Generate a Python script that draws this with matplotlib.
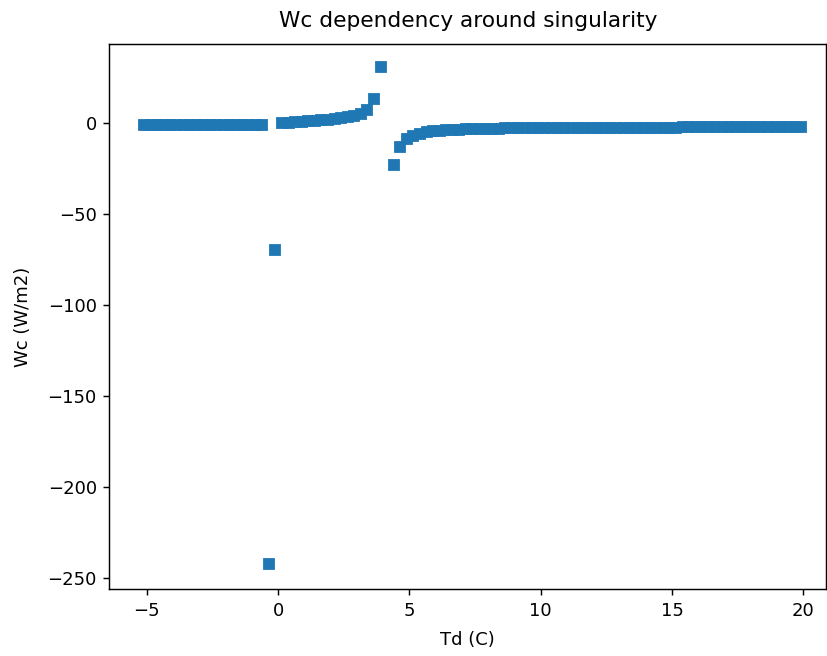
"""
Wc dependency around singularity - scatter of Wc vs Td
"""
import numpy as np
import matplotlib
matplotlib.use('Agg')
import matplotlib.pyplot as plt

# Td sample points (C), left branch, middle branch, right branch
td_left = [-5.1, -4.85, -4.6, -4.35, -4.1, -3.85, -3.6, -3.35, -3.1, -2.85,
           -2.6, -2.35, -2.1, -1.85, -1.6, -1.35, -1.1, -0.85, -0.6,
           -0.35, -0.1]
wc_left = [-0.9, -0.9, -0.9, -0.9, -0.9, -0.9, -0.9, -0.9, -0.9, -0.9,
           -0.9, -0.9, -0.9, -0.9, -0.9, -0.9, -0.9, -0.9, -0.9,
           -242.0, -69.5]

td_mid = [0.15, 0.4, 0.65, 0.9, 1.15, 1.4, 1.65, 1.9, 2.15, 2.4,
          2.65, 2.9, 3.15, 3.4, 3.65, 3.9]
wc_mid = [0.0, 0.2, 0.4, 0.6, 0.9, 1.1, 1.4, 1.8, 2.3, 2.8,
          3.4, 4.1, 5.0, 7.2, 13.3, 31.0]

td_right = [4.4, 4.65, 4.9, 5.15, 5.4, 5.65, 5.9, 6.15, 6.4, 6.65,
            6.9, 7.15, 7.4, 7.65, 7.9, 8.15, 8.4, 8.65, 8.9, 9.15,
            9.4, 9.65, 9.9, 10.15, 10.4, 10.65, 10.9, 11.15, 11.4, 11.65,
            11.9, 12.15, 12.4, 12.65, 12.9, 13.15, 13.4, 13.65, 13.9, 14.15,
            14.4, 14.65, 14.9, 15.15, 15.4, 15.65, 15.9, 16.15, 16.4, 16.65,
            16.9, 17.15, 17.4, 17.65, 17.9, 18.15, 18.4, 18.65, 18.9, 19.15,
            19.4, 19.65, 19.9]
wc_right = [-23.2, -13.2, -8.8, -6.9, -5.8, -5.1, -4.6, -4.3, -4.0, -3.8,
            -3.6, -3.5, -3.4, -3.3, -3.2, -3.1, -3.1, -3.0, -3.0, -2.9,
            -2.9, -2.9, -2.8, -2.8, -2.8, -2.7, -2.7, -2.7, -2.7, -2.6,
            -2.6, -2.6, -2.6, -2.6, -2.6, -2.5, -2.5, -2.5, -2.5, -2.5,
            -2.5, -2.5, -2.5, -2.5, -2.4, -2.4, -2.4, -2.4, -2.4, -2.4,
            -2.4, -2.4, -2.4, -2.4, -2.4, -2.4, -2.4, -2.4, -2.3, -2.3,
            -2.3, -2.3, -2.3]

td = np.array(td_left + td_mid + td_right)
wc = np.array(wc_left + wc_mid + wc_right)

fig = plt.figure(figsize=(827 / 130, 656 / 130), dpi=130)
ax = fig.add_axes([0.1324, 0.1021, 0.8664, 0.8308])

ax.plot(td, wc, 's', color='#1f77b4')
ax.set_xlim(-6.42, 20.86)
ax.set_ylim(-256.0, 43.4)
ax.set_xticks([-5, 0, 5, 10, 15, 20])
ax.set_yticks([-250, -200, -150, -100, -50, 0])

ax.set_title('Wc dependency around singularity', pad=9.5)
ax.set_xlabel('Td (C)', labelpad=6.5)
ax.set_ylabel('Wc (W/m2)', labelpad=8.5)

fig.savefig('out.png', dpi=130)
plt.close(fig)
